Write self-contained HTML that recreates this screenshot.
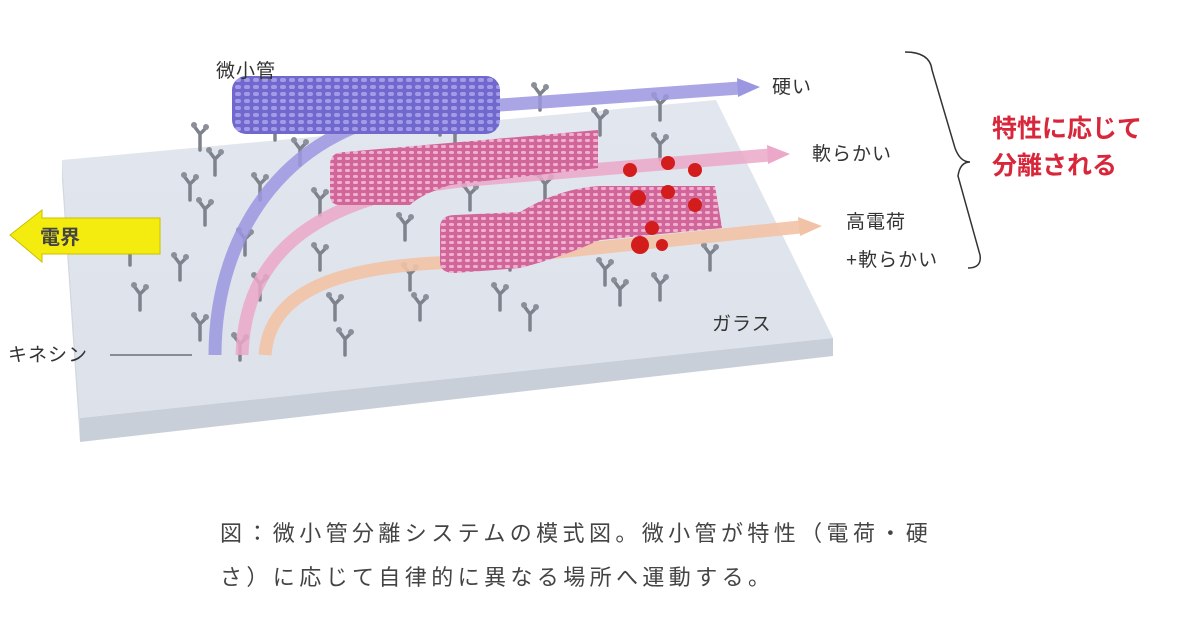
<!DOCTYPE html>
<html><head><meta charset="utf-8"><style>
html,body{margin:0;padding:0;background:#fff;}
svg{display:block}
text{font-family:"Liberation Sans","Noto Sans CJK JP",sans-serif;}
</style></head><body>
<svg width="1200" height="630" viewBox="0 0 1200 630" xmlns="http://www.w3.org/2000/svg">
<defs>
<pattern id="blue" width="9" height="7" patternUnits="userSpaceOnUse">
<rect width="9" height="7" fill="#7068cc"/><rect x="1" y="1" width="6" height="4" rx="2" fill="#a29ce8"/></pattern>
<pattern id="pink" width="8" height="6" patternUnits="userSpaceOnUse">
<rect width="8" height="6" fill="#d0669a"/><rect x="1" y="1" width="5" height="3" rx="1.5" fill="#f2b0cf"/></pattern>
<linearGradient id="top" x1="0" y1="0" x2="0" y2="1"><stop offset="0" stop-color="#e2e6ee"/><stop offset="1" stop-color="#dde2ea"/></linearGradient>
<g id="k"><path d="M0 0 V-16 M0 -16 L-6 -24 M0 -16 L6 -22" stroke="#7d828c" stroke-width="3.5" fill="none" stroke-linecap="round"/><circle cx="-6" cy="-25" r="3" fill="#8a8f99"/><circle cx="6" cy="-23" r="3" fill="#8a8f99"/></g>
</defs>
<rect width="1200" height="630" fill="#fff"/>
<polygon points="62,160 716,100 833,338 80,418" fill="url(#top)"/>
<polygon points="80,418 833,338 833,356 80,442" fill="#c9cfd9"/>
<polygon points="62,160 80,418 80,442 62,180" fill="#d3d8e1"/>
<g>
<use href="#k" x="200" y="150"/><use href="#k" x="215" y="175"/><use href="#k" x="190" y="200"/><use href="#k" x="205" y="225"/>
<use href="#k" x="275" y="140"/><use href="#k" x="300" y="165"/><use href="#k" x="260" y="200"/><use href="#k" x="320" y="215"/>
<use href="#k" x="130" y="265"/><use href="#k" x="180" y="280"/><use href="#k" x="245" y="255"/><use href="#k" x="320" y="270"/>
<use href="#k" x="140" y="310"/><use href="#k" x="200" y="340"/><use href="#k" x="260" y="300"/><use href="#k" x="335" y="320"/>
<use href="#k" x="345" y="355"/><use href="#k" x="420" y="320"/><use href="#k" x="410" y="290"/><use href="#k" x="405" y="240"/>
<use href="#k" x="500" y="310"/><use href="#k" x="530" y="330"/><use href="#k" x="545" y="200"/><use href="#k" x="470" y="210"/>
<use href="#k" x="620" y="305"/><use href="#k" x="660" y="300"/><use href="#k" x="710" y="270"/><use href="#k" x="660" y="120"/>
<use href="#k" x="660" y="160"/><use href="#k" x="540" y="110"/><use href="#k" x="600" y="135"/><use href="#k" x="440" y="135"/>
<use href="#k" x="510" y="270"/><use href="#k" x="455" y="150"/><use href="#k" x="605" y="285"/><use href="#k" x="240" y="360"/>
</g>
<path d="M215 355 C215 230 290 120 430 110 L740 88" stroke="#9b96e0" stroke-width="13" fill="none" opacity="0.85"/>
<polygon points="737,78 760,87 738,97" fill="#9b96e0"/>
<path d="M242 355 C245 250 320 195 470 180 L770 155" stroke="#eba8c8" stroke-width="13" fill="none" opacity="0.85"/>
<polygon points="767,145 790,154 768,164" fill="#eba8c8"/>
<path d="M265 355 C270 290 340 265 460 262 L800 227" stroke="#f2c2a6" stroke-width="13" fill="none" opacity="0.9"/>
<polygon points="798,217 822,226 800,236" fill="#f2c2a6"/>
<rect x="232" y="76" width="268" height="58" rx="14" fill="url(#blue)"/>
<path d="M330 165 Q330 152 345 152 L598 130 L598 168 L450 185 Q420 195 410 205 L340 205 Q330 205 330 195 Z" fill="url(#pink)"/>
<path d="M440 228 Q440 215 455 215 L520 212 Q560 188 600 186 L715 186 L722 228 L600 240 Q560 258 520 268 L455 273 Q440 273 440 262 Z" fill="url(#pink)"/>
<g fill="#d31c1c">
<circle cx="630" cy="170" r="7"/><circle cx="668" cy="163" r="7"/><circle cx="695" cy="170" r="7"/>
<circle cx="638" cy="198" r="8"/><circle cx="668" cy="192" r="7"/><circle cx="695" cy="205" r="7"/>
<circle cx="640" cy="245" r="9"/><circle cx="652" cy="228" r="7"/><circle cx="662" cy="245" r="6"/>
</g>
<polygon points="10,235 42,210 42,218 160,218 160,254 42,254 42,262" fill="#f5ec0f" stroke="#c9c000" stroke-width="1"/>
<text x="40" y="244" font-size="20" font-weight="bold" fill="#444">電界</text>
<text x="216" y="77" font-size="19" fill="#333" letter-spacing="1">微小管</text>
<text x="772" y="93" font-size="19" fill="#333" letter-spacing="1">硬い</text>
<text x="812" y="160" font-size="19" fill="#333" letter-spacing="1">軟らかい</text>
<text x="846" y="228" font-size="19" fill="#333" letter-spacing="1">高電荷</text>
<text x="846" y="266" font-size="19" fill="#333" letter-spacing="1">+軟らかい</text>
<text x="712" y="330" font-size="19" fill="#333" letter-spacing="1">ガラス</text>
<text x="8" y="361" font-size="19" fill="#333" letter-spacing="1">キネシン</text>
<line x1="110" y1="355" x2="192" y2="355" stroke="#333" stroke-width="1"/>
<path d="M905 52 Q930 52 932 70 L955 148 Q960 162 970 162 Q960 162 958 176 L980 255 Q982 268 968 268" stroke="#333" stroke-width="1.5" fill="none"/>
<text x="992" y="137" font-size="25" font-weight="bold" fill="#d8263a">特性に応じて</text>
<text x="992" y="174" font-size="25" font-weight="bold" fill="#d8263a">分離される</text>
<text x="220" y="541" font-size="22" fill="#444" letter-spacing="4.4">図：微小管分離システムの模式図。微小管が特性（電荷・硬</text>
<text x="220" y="585" font-size="22" fill="#444" letter-spacing="4.4">さ）に応じて自律的に異なる場所へ運動する。</text>
</svg>
</body></html>
